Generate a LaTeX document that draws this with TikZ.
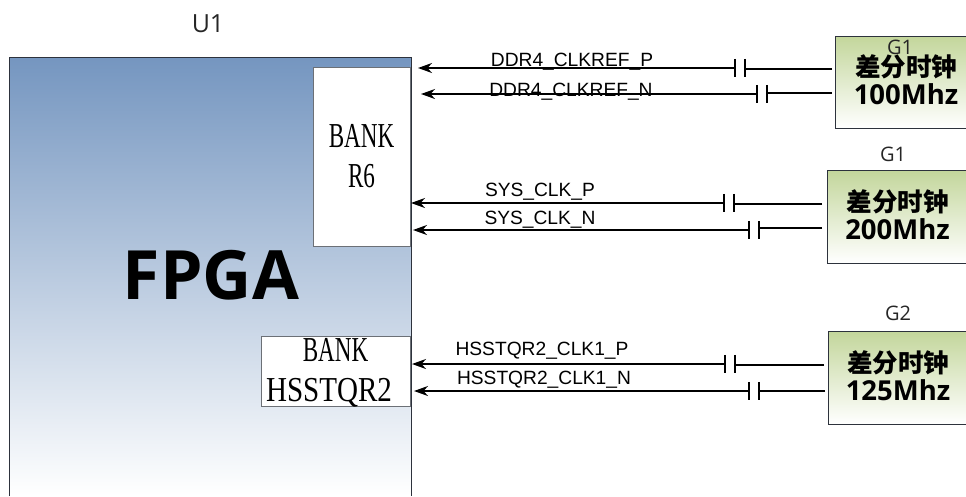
\documentclass[tikz,border=0pt]{standalone}
\usepackage{fontspec}
\usetikzlibrary{arrows.meta}
\setmainfont{Liberation Sans}
\newfontfamily\bankfont[FakeStretch=0.66]{Liberation Serif}
\newfontfamily\widebankfont[FakeStretch=0.83]{Liberation Serif}
\newfontfamily\fpgafont{Open Sans}
\newfontfamily\cnfont{Noto Sans CJK SC}
\definecolor{chipblue}{RGB}{117,150,192}
\definecolor{srcgreen}{RGB}{195,214,155}
\definecolor{edgegray}{RGB}{45,50,60}
\tikzset{
    wire/.style={line width=2pt, black},
    plate/.style={line width=1.8pt, black},
    capbox/.style={minimum width=10pt, minimum height=18pt, inner sep=0pt},
    bankbox/.style={draw=edgegray!70, line width=0.8pt, fill=white, inner sep=0pt, align=center, font=\bankfont\fontsize{35}{40}\selectfont},
    srcbox/.style={draw=edgegray, line width=1pt, top color=srcgreen, bottom color=white, inner sep=0pt, align=center, font=\fpgafont\bfseries\fontsize{27.5}{28}\selectfont},
    netlabel/.style={inner sep=0pt, font=\fontsize{19.2}{22}\selectfont},
    reflabel/.style={inner sep=0pt, text=black!85, font=\fpgafont\fontsize{20}{24}\selectfont}
}
\newcommand{\capplates}[1]{\draw[plate] (#1.north west) -- (#1.south west) (#1.north east) -- (#1.south east);}
\newcommand{\srctext}[1]{{\cnfont\bfseries\fontsize{25.5}{28}\selectfont 差分时钟}\\#1\rule[-4pt]{0pt}{4pt}}
\begin{document}
\begin{tikzpicture}[x=1pt, y=-1pt]
    \useasboundingbox (0,0) rectangle (966,496);
    % FPGA body
    \node[minimum width=402pt, minimum height=438pt, inner sep=0pt, top color=chipblue, bottom color=white] (fpga) at (210.5,277) {};
    \draw[edgegray, line width=1pt] (fpga.south west) -- (fpga.north west) -- (fpga.north east) -- (fpga.south east);
    \node[inner sep=0pt, font=\fpgafont\bfseries\fontsize{68}{80}\selectfont] (fpgatext) at (211,275) {FPGA};
    \node[reflabel, font=\fpgafont\fontsize{25}{30}\selectfont] (u1) at (208,24) {U1};

    % Banks
    \node[bankbox, minimum width=97pt, minimum height=179pt] (bankr6) at (361.5,156.5) {BANK\\R6};
    \node[bankbox, minimum width=149pt, minimum height=70pt] (bankhs) at (335.5,371) {\raisebox{-10pt}[0pt][0pt]{BANK}\\\raisebox{-10pt}[0pt][0pt]{\widebankfont HSSTQR2}\hspace*{13pt}};

    % Clock sources
    \node[srcbox, minimum width=141pt, minimum height=92pt] (src100) at (906,82) {\srctext{100Mhz}};
    \node[srcbox, minimum width=141pt, minimum height=93pt] (src200) at (897.5,216.5) {\srctext{200Mhz}};
    \node[srcbox, minimum width=140pt, minimum height=93pt] (src125) at (898,377.5) {\srctext{125Mhz}};
    \node[reflabel] (g1a) at (900,47) {G1};
    \node[reflabel] (g1b) at (893,154) {G1};
    \node[reflabel] (g2) at (898,313) {G2};

    % Capacitors
    \node[capbox] (capa) at (740,68) {}; \capplates{capa}
    \node[capbox] (capb) at (762,94) {}; \capplates{capb}
    \node[capbox] (capc) at (729,203) {}; \capplates{capc}
    \node[capbox] (capd) at (754,230) {}; \capplates{capd}
    \node[capbox] (cape) at (730,364) {}; \capplates{cape}
    \node[capbox] (capf) at (754,391) {}; \capplates{capf}

    % Free ends of the nets
    \coordinate (tipa) at (418,68);
    \coordinate (tipb) at (421,94);
    \coordinate (tipc) at (411,203);
    \coordinate (tipd) at (413,230);
    \coordinate (tipe) at (412,364);
    \coordinate (tipf) at (414,391);
    \coordinate (enda) at (832,69);
    \coordinate (endb) at (832,93);
    \coordinate (endc) at (822,204);
    \coordinate (endd) at (822,228);
    \coordinate (ende) at (824,365);
    \coordinate (endf) at (825,391);

    % Nets
    \draw[wire, -{Stealth[length=14pt, width=10pt]}] (capa.west) -- (tipa);
    \draw[wire, -{Stealth[length=14pt, width=10pt]}] (capb.west) -- (tipb);
    \draw[wire, -{Stealth[length=14pt, width=10pt]}] (capc.west) -- (tipc);
    \draw[wire, -{Stealth[length=14pt, width=10pt]}] (capd.west) -- (tipd);
    \draw[wire, -{Stealth[length=14pt, width=10pt]}] (cape.west) -- (tipe);
    \draw[wire, -{Stealth[length=14pt, width=10pt]}] (capf.west) -- (tipf);
    \draw[wire] (enda) -- (capa.east |- enda);
    \draw[wire] (endb) -- (capb.east |- endb);
    \draw[wire] (endc) -- (capc.east |- endc);
    \draw[wire] (endd) -- (capd.east |- endd);
    \draw[wire] (ende) -- (cape.east |- ende);
    \draw[wire] (endf) -- (capf.east |- endf);

    % Net names
    \node[netlabel] (nama) at (572,62) {DDR4\_CLKREF\_P};
    \node[netlabel] (namb) at (571,92) {DDR4\_CLKREF\_N};
    \node[netlabel] (namc) at (540,192) {SYS\_CLK\_P};
    \node[netlabel] (namd) at (540,220) {SYS\_CLK\_N};
    \node[netlabel] (name) at (542,351) {HSSTQR2\_CLK1\_P};
    \node[netlabel] (namf) at (544,380) {HSSTQR2\_CLK1\_N};
\end{tikzpicture}
\end{document}
